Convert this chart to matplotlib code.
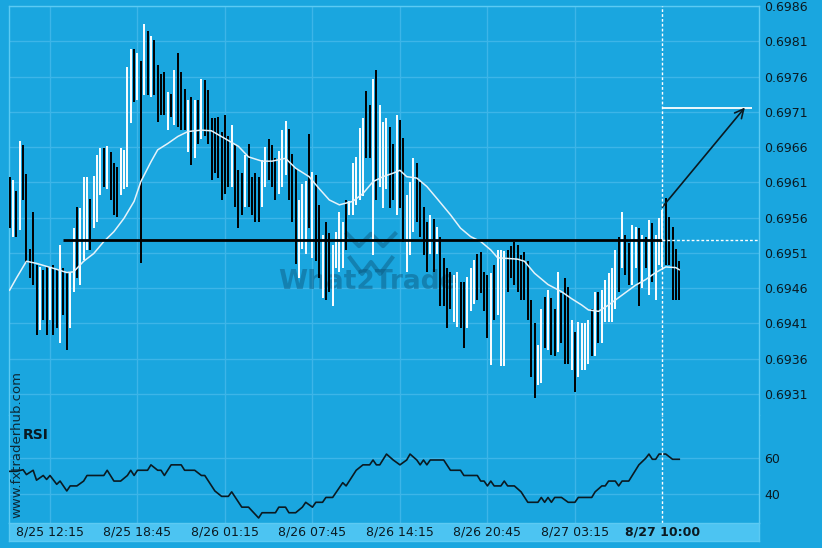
"""
Gráfico de barras (máxima/mínima) com média móvel, nível horizontal,
seta de projeção e painel RSI logo abaixo.
"""

import matplotlib.pyplot as plt

# Cores do tema
BG = "#1aa6df"
GRID = "#3db5e8"
BAND = "#4cc4f2"
FRAME = "#5ccaf3"
INK = "#0a1a22"

# Barras: máxima, mínima e direção (1 = alta/branca, 0 = baixa/preta)
highs = [
    0.69618, 0.69613, 0.69597, 0.69669, 0.69663, 0.69622, 0.69516, 0.69568, 0.69493, 0.69490,
    0.69486, 0.69490, 0.69490, 0.69493, 0.69486, 0.69521, 0.69488, 0.69483, 0.69483, 0.69545,
    0.69575, 0.69574, 0.69617, 0.69617, 0.69586, 0.69619, 0.69649, 0.69659, 0.69659, 0.69662,
    0.69653, 0.69637, 0.69632, 0.69658, 0.69656, 0.69774, 0.69799, 0.69799, 0.69794, 0.69782,
    0.69835, 0.69824, 0.69817, 0.69812, 0.69777, 0.69763, 0.69766, 0.69738, 0.69735, 0.69769,
    0.69794, 0.69767, 0.69743, 0.69727, 0.69731, 0.69727, 0.69727, 0.69757, 0.69755, 0.69741,
    0.69701, 0.69701, 0.69703, 0.69682, 0.69705, 0.69675, 0.69691, 0.69663, 0.69627, 0.69623,
    0.69649, 0.69664, 0.69618, 0.69623, 0.69617, 0.69642, 0.69660, 0.69671, 0.69663, 0.69644,
    0.69654, 0.69684, 0.69697, 0.69685, 0.69650, 0.69630, 0.69585, 0.69607, 0.69612, 0.69678,
    0.69625, 0.69620, 0.69578, 0.69535, 0.69553, 0.69538, 0.69521, 0.69540, 0.69568, 0.69554,
    0.69585, 0.69583, 0.69637, 0.69646, 0.69687, 0.69701, 0.69739, 0.69720, 0.69757, 0.69769,
    0.69720, 0.69696, 0.69701, 0.69689, 0.69664, 0.69706, 0.69698, 0.69673, 0.69592, 0.69611,
    0.69644, 0.69637, 0.69611, 0.69575, 0.69554, 0.69564, 0.69558, 0.69547, 0.69533, 0.69502,
    0.69488, 0.69483, 0.69479, 0.69483, 0.69469, 0.69469, 0.69476, 0.69488, 0.69500, 0.69509,
    0.69511, 0.69483, 0.69479, 0.69481, 0.69493, 0.69514, 0.69514, 0.69512, 0.69514, 0.69519,
    0.69526, 0.69521, 0.69507, 0.69511, 0.69498, 0.69443, 0.69410, 0.69379, 0.69431, 0.69448,
    0.69457, 0.69446, 0.69431, 0.69483, 0.69453, 0.69474, 0.69462, 0.69415, 0.69398, 0.69412,
    0.69410, 0.69410, 0.69415, 0.69431, 0.69455, 0.69455, 0.69457, 0.69472, 0.69481, 0.69488,
    0.69514, 0.69533, 0.69568, 0.69535, 0.69524, 0.69550, 0.69547, 0.69545, 0.69535, 0.69533,
    0.69557, 0.69552, 0.69535, 0.69559, 0.69571, 0.69588, 0.69561, 0.69547, 0.69516, 0.69498,
]
lows = [
    0.69545, 0.69533, 0.69533, 0.69542, 0.69585, 0.69495, 0.69474, 0.69464, 0.69394, 0.69401,
    0.69415, 0.69394, 0.69415, 0.69394, 0.69403, 0.69382, 0.69422, 0.69372, 0.69403, 0.69455,
    0.69474, 0.69464, 0.69500, 0.69514, 0.69514, 0.69545, 0.69554, 0.69592, 0.69604, 0.69601,
    0.69585, 0.69564, 0.69561, 0.69592, 0.69601, 0.69604, 0.69694, 0.69724, 0.69727, 0.69495,
    0.69734, 0.69734, 0.69731, 0.69734, 0.69696, 0.69705, 0.69705, 0.69684, 0.69703, 0.69691,
    0.69689, 0.69684, 0.69684, 0.69653, 0.69635, 0.69644, 0.69665, 0.69672, 0.69675, 0.69665,
    0.69613, 0.69623, 0.69616, 0.69585, 0.69594, 0.69604, 0.69604, 0.69575, 0.69545, 0.69564,
    0.69575, 0.69575, 0.69564, 0.69554, 0.69554, 0.69575, 0.69604, 0.69613, 0.69604, 0.69585,
    0.69594, 0.69604, 0.69620, 0.69585, 0.69554, 0.69494, 0.69474, 0.69516, 0.69509, 0.69545,
    0.69502, 0.69498, 0.69474, 0.69446, 0.69443, 0.69455, 0.69434, 0.69488, 0.69483, 0.69488,
    0.69514, 0.69564, 0.69564, 0.69578, 0.69585, 0.69590, 0.69644, 0.69644, 0.69507, 0.69585,
    0.69604, 0.69574, 0.69601, 0.69574, 0.69585, 0.69564, 0.69574, 0.69526, 0.69483, 0.69507,
    0.69540, 0.69554, 0.69533, 0.69507, 0.69483, 0.69509, 0.69483, 0.69509, 0.69434, 0.69434,
    0.69403, 0.69431, 0.69412, 0.69405, 0.69403, 0.69375, 0.69403, 0.69427, 0.69438, 0.69443,
    0.69453, 0.69427, 0.69389, 0.69351, 0.69415, 0.69422, 0.69349, 0.69349, 0.69455, 0.69474,
    0.69464, 0.69455, 0.69443, 0.69443, 0.69415, 0.69334, 0.69304, 0.69323, 0.69325, 0.69375,
    0.69372, 0.69365, 0.69363, 0.69370, 0.69382, 0.69353, 0.69353, 0.69344, 0.69313, 0.69334,
    0.69344, 0.69344, 0.69353, 0.69363, 0.69363, 0.69382, 0.69382, 0.69412, 0.69412, 0.69412,
    0.69431, 0.69455, 0.69488, 0.69479, 0.69464, 0.69464, 0.69488, 0.69434, 0.69460, 0.69488,
    0.69450, 0.69469, 0.69443, 0.69493, 0.69490, 0.69493, 0.69493, 0.69443, 0.69443, 0.69443,
]
bar_up = [
    0, 1, 0, 1, 0, 0, 0, 0, 0, 1,
    0, 0, 1, 0, 0, 1, 0, 0, 1, 1,
    0, 1, 1, 1, 0, 1, 1, 1, 0, 1,
    0, 0, 0, 1, 1, 1, 1, 0, 1, 0,
    1, 0, 1, 0, 0, 0, 0, 1, 0, 1,
    0, 0, 0, 1, 0, 1, 0, 1, 0, 0,
    0, 0, 0, 0, 0, 0, 1, 0, 0, 0,
    1, 0, 0, 0, 0, 1, 1, 0, 0, 0,
    1, 1, 1, 0, 0, 0, 1, 1, 1, 0,
    1, 0, 0, 1, 0, 0, 1, 1, 1, 1,
    0, 1, 1, 1, 1, 1, 0, 0, 1, 0,
    1, 1, 1, 0, 0, 1, 0, 0, 1, 1,
    1, 0, 0, 0, 0, 1, 0, 1, 0, 0,
    0, 0, 1, 1, 0, 0, 1, 1, 1, 0,
    0, 0, 0, 1, 0, 1, 1, 1, 0, 0,
    0, 0, 0, 0, 0, 0, 0, 1, 1, 0,
    1, 0, 0, 1, 0, 0, 0, 1, 0, 1,
    1, 1, 1, 0, 1, 0, 1, 1, 1, 1,
    1, 0, 1, 0, 0, 1, 1, 0, 1, 0,
    1, 0, 1, 1, 1, 0, 0, 0, 0, 0,
]

# Média móvel (linha branca)
ma_bar = [0, 2, 5, 8, 13, 17, 19, 22, 25, 28, 31, 34, 37, 39, 42, 44, 47, 50, 53, 57,
          60, 64, 68, 71, 75, 78, 82, 85, 89, 92, 95, 98, 102, 105, 108, 111, 114, 116, 118, 121,
          124, 127, 131, 134, 137, 140, 143, 145, 148, 151, 153, 156, 160, 164, 167, 170, 172, 175, 178, 182,
          186, 189, 192, 195, 198, 199]
ma_val = [0.69457, 0.69474, 0.69498, 0.69495, 0.69488, 0.69482, 0.69483, 0.69498, 0.69509, 0.69526,
          0.69540, 0.69559, 0.69583, 0.69611, 0.69639, 0.69656, 0.69665, 0.69675, 0.69682, 0.69684,
          0.69683, 0.69672, 0.69661, 0.69646, 0.69640, 0.69640, 0.69644, 0.69630, 0.69618, 0.69601,
          0.69585, 0.69578, 0.69583, 0.69594, 0.69611, 0.69618, 0.69623, 0.69627, 0.69618, 0.69616,
          0.69604, 0.69587, 0.69564, 0.69545, 0.69533, 0.69526, 0.69514, 0.69503, 0.69502, 0.69501,
          0.69498, 0.69481, 0.69465, 0.69455, 0.69445, 0.69436, 0.69429, 0.69427, 0.69436, 0.69450,
          0.69464, 0.69472, 0.69482, 0.69490, 0.69489, 0.69486]

# RSI
rsi_bar = [0, 2, 4, 5, 7, 8, 10, 11, 12, 14, 15, 17, 18, 20, 22, 23, 28, 29, 31, 33,
           35, 36, 37, 38, 41, 42, 44, 45, 46, 48, 51, 52, 55, 57, 58, 61, 63, 65, 66, 69,
           71, 74, 75, 79, 80, 82, 83, 85, 87, 88, 90, 91, 93, 94, 96, 99, 100, 103, 105, 107,
           108, 109, 110, 112, 114, 116, 118, 119, 121, 122, 123, 124, 125, 129, 131, 134, 135, 139, 140, 141,
           142, 143, 144, 146, 147, 148, 150, 152, 154, 157, 158, 159, 160, 161, 162, 164, 166, 168, 169, 173,
           174, 176, 177, 178, 180, 181, 182, 184, 186, 187, 189, 190, 191, 192, 193, 195, 197, 199]
rsi_val = [52.6, 52.6, 53.5, 50.8, 53.2, 47.7, 50.3, 48.1, 50.3, 45.4, 47.2, 41.7, 44.5, 44.5, 47.2, 50.3, 50.3, 53.2, 47.2, 47.2,
           50.3, 53.2, 50.3, 53.2, 53.2, 56.2, 53.2, 53.2, 50.3, 56.2, 56.2, 53.2, 53.2, 50.3, 50.3, 41.7, 38.7, 38.7, 41.2, 32.7,
           32.7, 26.7, 29.6, 29.6, 32.7, 32.7, 29.6, 29.6, 32.7, 35.4, 32.7, 35.4, 35.4, 38.1, 38.1, 46.3, 44.5, 53.2, 56.2, 56.2,
           58.9, 56.2, 56.2, 62.2, 58.9, 56.2, 58.9, 62.2, 58.9, 56.2, 58.9, 56.2, 58.9, 58.9, 53.2, 53.2, 50.3, 50.3, 47.2, 47.2,
           44.5, 47.2, 44.5, 44.5, 47.2, 44.5, 44.5, 41.2, 35.4, 35.4, 38.1, 35.4, 38.1, 35.4, 38.1, 38.1, 35.4, 35.4, 38.1, 38.1,
           41.2, 44.5, 44.5, 47.2, 47.2, 44.5, 47.2, 47.2, 53.2, 56.2, 59.8, 62.2, 59.3, 59.3, 62.2, 62.2, 59.3, 59.3]

# Eixos e rótulos
price_ticks = [0.6931, 0.6936, 0.6941, 0.6946, 0.6951, 0.6956, 0.6961, 0.6966, 0.6971, 0.6976, 0.6981, 0.6986]
rsi_ticks = [40, 60]
time_bars = [12, 38, 64, 90, 116, 142, 168]
time_labels = ["8/25 12:15", "8/25 18:45", "8/26 01:15", "8/26 07:45", "8/26 14:15", "8/26 20:45", "8/27 03:15"]
now_bar = 194
now_label = "8/27 10:00"

# Nível, projeção
level_start = 16
level = 0.69528
arrow_from = 0.69575
target_bar = 218.5
target = 0.69716
target_line_end = 220.6

XLIM = (-0.18, 222.7)
W, H = 822, 548


def _box(left, top, right, bottom):
    """Converte pixels da imagem para coordenadas da figura."""
    return [left / W, 1 - bottom / H, (right - left) / W, (bottom - top) / H]


fig = plt.figure(figsize=(W / 100, H / 100), dpi=100, facecolor=BG)
ax = fig.add_axes(_box(9, 6, 759, 415), facecolor=BG)
ax_rsi = fig.add_axes(_box(9, 415, 759, 523), facecolor=BG)
ax_band = fig.add_axes(_box(9, 523, 759, 541), facecolor=BAND)

for a in (ax, ax_rsi, ax_band):
    a.set_xlim(*XLIM)
    a.set_xticks([])
    for s in a.spines.values():
        s.set_color(FRAME)
        s.set_linewidth(1)
ax.spines["bottom"].set_visible(False)
ax_rsi.spines["top"].set_visible(False)
ax_rsi.spines["bottom"].set_visible(False)

# Grade
for a in (ax, ax_rsi):
    for b in time_bars:
        a.axvline(b, color=GRID, lw=1, zorder=0)
    a.grid(axis="y", color=GRID, lw=1)
    a.set_axisbelow(True)
    a.yaxis.tick_right()
    a.tick_params(axis="y", length=0, pad=4, labelsize=9, labelcolor=INK)

# Painel de preço
ax.set_ylim(0.69280, 0.6986)
ax.set_yticks(price_ticks)
ax.set_yticklabels([f"{t:.4f}" for t in price_ticks])

# Marca d'água
ax.text(0.4787, 0.325, "What2Trade", transform=ax.transAxes, fontsize=19,
        fontweight="bold", color="#0b4f73", alpha=0.42, ha="center", va="center", zorder=1)
ax.plot([0.4507, 0.4667, 0.4827, 0.4987, 0.5147], [0.443, 0.413, 0.443, 0.413, 0.443],
        transform=ax.transAxes, color="#0b4f73", alpha=0.42, lw=3, zorder=1)
ax.plot([0.4547, 0.4707, 0.4827, 0.4947, 0.5107], [0.384, 0.345, 0.374, 0.345, 0.384],
        transform=ax.transAxes, color="#0b4f73", alpha=0.42, lw=3, zorder=1)

colors = ["white" if u else "black" for u in bar_up]
ax.vlines(range(len(highs)), lows, highs, colors=colors, lw=1.4, zorder=3)
ax.plot(ma_bar, ma_val, color="#e6f3fa", lw=1.1, zorder=4)

ax.hlines(level, level_start, now_bar, color="black", lw=2, zorder=5)
ax.hlines(level, now_bar, XLIM[1], color="white", lw=1, ls=(0, (2, 1.5)), zorder=5)
ax.hlines(target, now_bar, target_line_end, color="white", lw=1.3, zorder=5)
ax.annotate("", xy=(target_bar, target), xytext=(now_bar, arrow_from),
            arrowprops=dict(arrowstyle="->", color=INK, lw=1.2, mutation_scale=16,
                            shrinkA=0, shrinkB=0), zorder=6)

# Painel RSI
ax_rsi.set_ylim(23.9, 83.9)
ax_rsi.set_yticks(rsi_ticks)
ax_rsi.plot(rsi_bar, rsi_val, color=INK, lw=1.2, zorder=3)

for a in (ax, ax_rsi):
    a.axvline(now_bar, color="white", lw=1, ls=(0, (2, 1.5)), zorder=6)

# Faixa de datas
ax_band.set_ylim(0, 1)
ax_band.set_yticks([])
for b, lab in zip(time_bars, time_labels):
    ax_band.text(b, 0.5, lab, ha="center", va="center", fontsize=9, color=INK)
ax_band.text(now_bar, 0.5, now_label, ha="center", va="center", fontsize=9,
             fontweight="bold", color=INK)

fig.text(23 / W, 1 - 435 / H, "RSI", fontsize=10, fontweight="bold",
         ha="left", va="center", color=INK)
fig.text(17 / W, 1 - 445 / H, "www.fxtraderhub.com", rotation=90, fontsize=9.5,
         ha="center", va="center", color="#0d2a38")

fig.savefig("out.png", dpi=100, facecolor=BG)
plt.close(fig)
